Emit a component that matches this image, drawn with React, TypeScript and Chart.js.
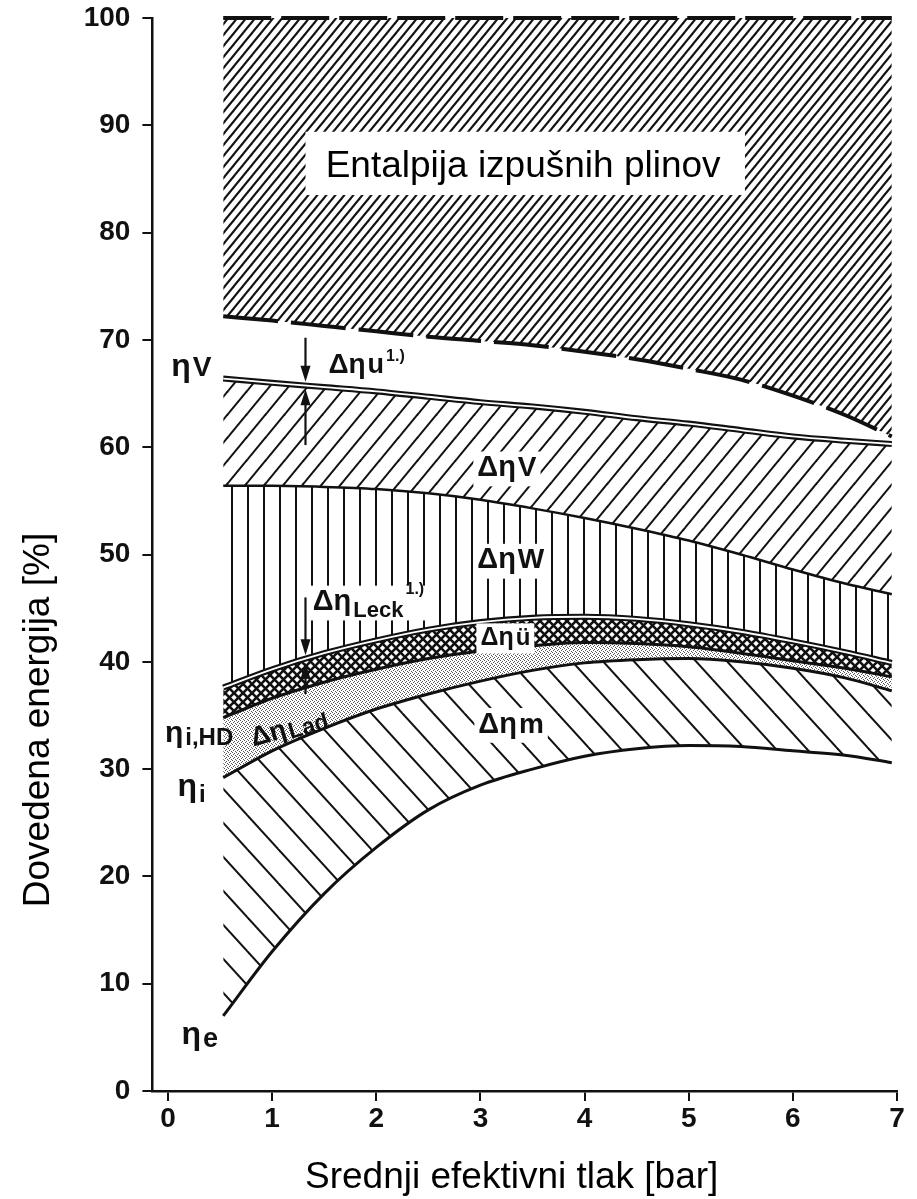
import React, { useEffect, useRef } from "react";
import { Chart, registerables } from "chart.js";

Chart.register(...registerables);

// ---------- data ----------
const pressure = [0.53, 1, 1.5, 2, 2.5, 3, 3.5, 4, 4.5, 5, 5.5, 6, 6.5, 6.95];
const exhaustTop = [100, 100, 100, 100, 100, 100, 100, 100, 100, 100, 100, 100, 100, 100];
const exhaustBottom = [72.2, 71.8, 71.3, 70.8, 70.3, 69.9, 69.5, 68.9, 68.2, 67.3, 66.3, 64.8, 63.0, 61.0];
const etaV = [66.4, 66.0, 65.6, 65.2, 64.7, 64.2, 63.8, 63.3, 62.7, 62.2, 61.6, 61.0, 60.6, 60.3];
const etaW = [56.4, 56.4, 56.3, 56.1, 55.7, 55.1, 54.3, 53.4, 52.4, 51.3, 50.0, 48.6, 47.3, 46.3];
const etaLeck = [37.6, 39.3, 40.8, 42.0, 43.0, 43.7, 44.1, 44.2, 44.0, 43.5, 42.8, 41.9, 40.9, 39.9];
const etaHD = [34.8, 36.6, 38.1, 39.3, 40.3, 41.0, 41.5, 41.8, 41.7, 41.4, 40.8, 40.1, 39.4, 38.6];
const etaI = [29.2, 31.7, 33.8, 35.6, 37.0, 38.2, 39.2, 39.9, 40.2, 40.3, 40.0, 39.4, 38.5, 37.3];
const etaE = [7.0, 13.0, 18.4, 22.7, 26.2, 28.5, 30.0, 31.2, 31.9, 32.2, 32.1, 31.7, 31.3, 30.6];
const xTickValues = [0, 1, 2, 3, 4, 5, 6, 7];
const yTickValues = [0, 10, 20, 30, 40, 50, 60, 70, 80, 90, 100];

const xTitle = "Srednji efektivni tlak [bar]";
const yTitle = "Dovedena energija [%]";
const regionTitle = "Entalpija izpušnih plinov";

// ---------- annotation layout (data units) ----------
type Piece = { t: string; size: number; rise?: number };
type Note = { x: number; y: number; parts: Piece[]; box?: boolean; angle?: number };
const notes: Note[] = [
  { x: 0.03, y: 66.6, parts: [{ t: "η", size: 32 }, { t: "V", size: 28 }] },
  { x: 1.54, y: 66.9, parts: [{ t: "Δη", size: 28 }, { t: "u", size: 27 }, { t: "1.)", size: 16, rise: 12 }] },
  { x: 2.97, y: 57.3, parts: [{ t: "Δη", size: 29 }, { t: "V", size: 28 }], box: true },
  { x: 2.97, y: 48.7, parts: [{ t: "Δη", size: 29 }, { t: "W", size: 28 }], box: true },
  { x: 1.39, y: 44.8, parts: [{ t: "Δη", size: 29 }, { t: "Leck", size: 22, rise: -7 }, { t: "1.)", size: 16, rise: 16 }], box: true },
  { x: 3.0, y: 41.6, parts: [{ t: "Δη", size: 25 }, { t: "ü", size: 24 }], box: true },
  { x: -0.03, y: 32.5, parts: [{ t: "η", size: 30 }, { t: "i,HD", size: 24, rise: -3 }] },
  { x: 0.82, y: 32.1, parts: [{ t: "Δη", size: 27 }, { t: "Lad", size: 23, rise: -3 }], angle: -16 },
  { x: 2.98, y: 33.4, parts: [{ t: "Δη", size: 29 }, { t: "m", size: 28 }], box: true },
  { x: 0.09, y: 27.5, parts: [{ t: "η", size: 32 }, { t: "i", size: 24, rise: -6 }] },
  { x: 0.13, y: 4.4, parts: [{ t: "η", size: 32 }, { t: "e", size: 27, rise: -3 }] },
];
const arrows = [
  { x: 1.32, from: 70.2, to: 66.1 },
  { x: 1.32, from: 60.2, to: 65.4 },
  { x: 1.32, from: 46.0, to: 40.6 },
  { x: 1.32, from: 37.0, to: 39.9 },
];
const regionBox = { x0: 1.32, x1: 5.54, y0: 89.4, y1: 83.5, tx: 3.41, ty: 85.2 };

const INK = "#111";
const LABEL_FAMILY = '"Liberation Sans", Arial, sans-serif';
const TITLE_FAMILY = '"Liberation Sans", Arial, sans-serif';

function makeCanvas(w: number, h: number) {
  const c = document.createElement("canvas");
  c.width = w;
  c.height = h;
  return c;
}

function diagonalPattern(w: number, h: number, rising: boolean, lw: number, both = false) {
  const c = makeCanvas(w, h);
  const g = c.getContext("2d")!;
  g.strokeStyle = INK;
  g.lineWidth = lw;
  const draw = (up: boolean) => {
    for (const o of [-w, 0, w]) {
      g.beginPath();
      if (up) {
        g.moveTo(o - w, 2 * h);
        g.lineTo(o + 2 * w, -h);
      } else {
        g.moveTo(o - w, -h);
        g.lineTo(o + 2 * w, 2 * h);
      }
      g.stroke();
    }
  };
  draw(rising);
  if (both) draw(!rising);
  return g.createPattern(c, "repeat")!;
}

function verticalPattern(w: number, lw: number) {
  const c = makeCanvas(w, 4);
  const g = c.getContext("2d")!;
  g.fillStyle = INK;
  g.fillRect(Math.floor(w / 2 - lw / 2), 0, lw, 4);
  return g.createPattern(c, "repeat")!;
}

function dotPattern() {
  const c = makeCanvas(4, 4);
  const g = c.getContext("2d")!;
  g.fillStyle = "#555";
  [[0, 0], [2, 1], [1, 2], [3, 3]].forEach(([a, b]) => g.fillRect(a, b, 1, 1));
  return g.createPattern(c, "repeat")!;
}

const annotationPlugin = {
  id: "figureNotes",
  afterDatasetsDraw(chart: any) {
    const { ctx } = chart;
    const xs = chart.scales.x;
    const ys = chart.scales.y;
    ctx.save();
    ctx.textBaseline = "alphabetic";

    // region title box
    const bx0 = xs.getPixelForValue(regionBox.x0);
    const bx1 = xs.getPixelForValue(regionBox.x1);
    const by0 = ys.getPixelForValue(regionBox.y0);
    const by1 = ys.getPixelForValue(regionBox.y1);
    ctx.fillStyle = "#fff";
    ctx.fillRect(bx0, by0, bx1 - bx0, by1 - by0);
    ctx.fillStyle = "#000";
    ctx.font = `37px ${TITLE_FAMILY}`;
    ctx.textAlign = "center";
    ctx.fillText(regionTitle, xs.getPixelForValue(regionBox.tx), ys.getPixelForValue(regionBox.ty));
    ctx.textAlign = "left";

    // arrows
    ctx.fillStyle = INK;
    ctx.strokeStyle = INK;
    ctx.lineWidth = 2.2;
    for (const a of arrows) {
      const px = xs.getPixelForValue(a.x);
      const p0 = ys.getPixelForValue(a.from);
      const p1 = ys.getPixelForValue(a.to);
      const dir = Math.sign(p1 - p0);
      ctx.beginPath();
      ctx.moveTo(px, p0);
      ctx.lineTo(px, p1 - dir * 10);
      ctx.stroke();
      ctx.beginPath();
      ctx.moveTo(px, p1);
      ctx.lineTo(px - 5, p1 - dir * 16);
      ctx.lineTo(px + 5, p1 - dir * 16);
      ctx.closePath();
      ctx.fill();
    }

    // labels
    const gap = 2;
    for (const n of notes) {
      const px = xs.getPixelForValue(n.x);
      const py = ys.getPixelForValue(n.y);
      ctx.save();
      ctx.translate(px, py);
      if (n.angle) ctx.rotate((n.angle * Math.PI) / 180);
      let w = 0;
      let maxS = 0;
      for (const p of n.parts) {
        ctx.font = `bold ${p.size}px ${LABEL_FAMILY}`;
        w += ctx.measureText(p.t).width + gap;
        maxS = Math.max(maxS, p.size);
      }
      if (n.box) {
        ctx.fillStyle = "#fff";
        ctx.fillRect(-4, -maxS * 0.85, w + 6, maxS * 1.2);
      }
      ctx.fillStyle = INK;
      let cx = 0;
      for (const p of n.parts) {
        ctx.font = `bold ${p.size}px ${LABEL_FAMILY}`;
        ctx.fillText(p.t, cx, -(p.rise || 0));
        cx += ctx.measureText(p.t).width + gap;
      }
      ctx.restore();
    }

    // axis titles
    ctx.fillStyle = "#000";
    ctx.font = `37px ${TITLE_FAMILY}`;
    ctx.save();
    ctx.translate(49, 720);
    ctx.rotate(-Math.PI / 2);
    ctx.textAlign = "center";
    ctx.fillText(yTitle, 0, 0);
    ctx.restore();
    ctx.textAlign = "center";
    ctx.fillText(xTitle, xs.getPixelForValue(3.3), chart.height - 11);
    ctx.restore();
  },
};

export default function App() {
  const ref = useRef<HTMLCanvasElement>(null);

  useEffect(() => {
    const canvas = ref.current!;
    const pExhaust = diagonalPattern(9, 11, true, 2.1);
    const pV = diagonalPattern(19, 23, true, 2);
    const pW = verticalPattern(16, 2);
    const pCross = diagonalPattern(9, 9, true, 2.6, true);
    const pDots = dotPattern();
    const pM = diagonalPattern(31, 34, false, 2);

    const pts = (vals: number[]) => pressure.map((x, i) => ({ x, y: vals[i] }));
    const line = (label: string, vals: number[], extra: any) => ({
      label,
      data: pts(vals),
      borderColor: INK,
      pointRadius: 0,
      cubicInterpolationMode: "monotone",
      fill: false,
      ...extra,
    });

    const fontTicks = { family: '"Liberation Sans", Arial, sans-serif', size: 28, weight: "bold" };

    const chart = new Chart(canvas, {
      type: "line",
      data: {
        datasets: [
          line("Entalpija izpušnih plinov – zgornja meja", exhaustTop, {
            borderWidth: 4, borderDash: [48, 10], fill: 1, backgroundColor: pExhaust, clip: false,
          }),
          line("Entalpija izpušnih plinov – spodnja meja", exhaustBottom, { borderWidth: 4, borderDash: [55, 13] }),
          line("ηV", etaV, { borderWidth: 6, fill: 3, backgroundColor: pV }),
          line("ηW", etaW, { borderWidth: 2.5, fill: 4, backgroundColor: pW }),
          line("ΔηLeck", etaLeck, { borderWidth: 6, fill: 5, backgroundColor: pCross }),
          line("ηi,HD", etaHD, { borderWidth: 3, fill: 6, backgroundColor: pDots }),
          line("ηi", etaI, { borderWidth: 3, fill: 7, backgroundColor: pM }),
          line("ηe", etaE, { borderWidth: 3 }),
          line("ηV (dvojna črta)", etaV, { borderWidth: 1.8, borderColor: "#fff", order: -1 }),
          line("ΔηLeck (dvojna črta)", etaLeck, { borderWidth: 1.8, borderColor: "#fff", order: -1 }),
        ],
      },
      options: {
        responsive: false,
        animation: false,
        events: [],
        layout: { padding: { left: 0, right: 20, top: 18, bottom: 0 } },
        plugins: {
          legend: { display: false },
          tooltip: { enabled: false },
          filler: { propagate: false, drawTime: "beforeDatasetsDraw" },
        },
        scales: {
          x: {
            type: "linear",
            min: -0.15,
            max: 7,
            afterBuildTicks: (s: any) => {
              s.ticks = xTickValues.map((v) => ({ value: v }));
            },
            afterFit: (s: any) => {
              s.height = 108;
              s.paddingLeft = 0;
              s.paddingRight = 0;
            },
            grid: { drawOnChartArea: false, tickLength: 10, color: INK, lineWidth: 2 },
            border: { color: INK, width: 2.5 },
            ticks: { color: INK, font: fontTicks, padding: 1, maxRotation: 0, autoSkip: false },
          },
          y: {
            type: "linear",
            min: 0,
            max: 100,
            afterBuildTicks: (s: any) => {
              s.ticks = yTickValues.map((v) => ({ value: v }));
            },
            afterFit: (s: any) => {
              s.width = 152.4;
              s.paddingTop = 0;
              s.paddingBottom = 0;
            },
            grid: { drawOnChartArea: false, tickLength: 10, color: INK, lineWidth: 2 },
            border: { color: INK, width: 2.5 },
            ticks: { color: INK, font: fontTicks, padding: 12, autoSkip: false },
          },
        },
      },
      plugins: [annotationPlugin],
    } as any);
    return () => chart.destroy();
  }, []);

  return (
    <div style={{ position: "fixed", left: 0, top: 0, width: 917, height: 1199, background: "#fff" }}>
      <canvas ref={ref} width={917} height={1199} style={{ display: "block" }} />
    </div>
  );
}
